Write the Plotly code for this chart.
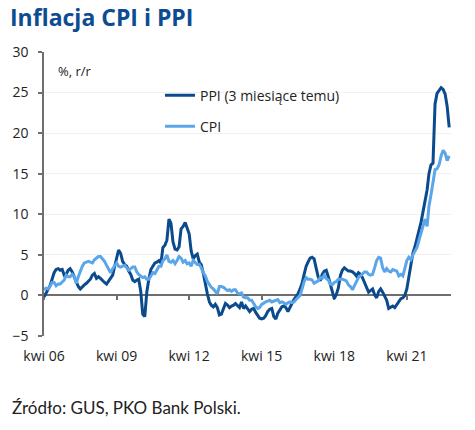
import pandas as pd
import plotly.graph_objects as go

# Monthly data, kwi 2006 - sty 2023
start_month = "2006-04-01"
n_months = 202

cpi = [
    0.7, 0.9, 0.8, 1.1, 1.6, 1.6, 1.2, 1.4, 1.4,
    1.6, 1.9, 2.5, 2.3, 2.3, 2.6, 2.3, 1.5, 2.3, 3.0, 3.6, 4.0,
    4.1, 4.2, 4.1, 4.0, 4.4, 4.6, 4.8, 4.8, 4.5, 4.2, 3.7, 3.3,
    2.8, 3.3, 3.6, 4.0, 3.6, 3.5, 3.6, 3.7, 3.4, 3.1, 3.3, 3.5,
    3.5, 2.9, 2.6, 2.4, 2.2, 2.3, 2.0, 2.0, 2.5, 2.8, 2.7, 3.1,
    3.6, 3.6, 4.3, 4.5, 5.0, 4.2, 4.1, 4.3, 3.9, 4.3, 4.8, 4.6,
    4.1, 4.3, 3.9, 4.0, 3.6, 4.3, 4.0, 3.8, 3.8, 3.4, 2.8, 2.4,
    1.7, 1.3, 1.0, 0.8, 0.5, 0.2, 1.1, 1.1, 1.0, 0.8, 0.6, 0.7,
    0.5, 0.7, 0.7, 0.3, 0.2, 0.3, -0.2, -0.3, -0.3, -0.6, -0.6, -1.0,
    -1.4, -1.6, -1.5, -1.1, -0.9, -0.8, -0.7, -0.6, -0.8, -0.7, -0.6, -0.5,
    -0.9, -0.8, -0.9, -1.1, -0.9, -0.8, -0.9, -0.8, -0.5, -0.2, 0.0, 0.8,
    1.7, 2.2, 2.0, 2.0, 1.9, 1.5, 1.7, 1.8, 2.2, 2.1, 2.5, 2.1,
    1.9, 1.4, 1.3, 1.6, 1.7, 2.0, 2.0, 2.0, 1.9, 1.8, 1.3, 1.1,
    0.7, 1.2, 1.7, 2.2, 2.4, 2.6, 2.9, 2.9, 2.6, 2.5, 2.6, 3.4,
    4.3, 4.7, 4.6, 3.4, 2.9, 3.3, 3.0, 2.9, 3.2, 3.1, 3.0, 2.4,
    2.6, 2.4, 3.2, 4.3, 4.7, 4.4, 5.0, 5.5, 5.9, 6.8, 7.8, 8.6,
    9.4, 8.5, 11.0, 12.4, 13.9, 15.5, 15.6, 16.1, 17.2, 17.9, 17.5, 16.6,
    17.2,
]

ppi_lag3 = [
    -0.2, 0.3, 0.8, 1.2, 2.0, 2.8, 3.2, 3.3, 3.1,
    3.2, 2.5, 2.6, 3.1, 3.3, 2.9, 2.3, 1.5, 1.1, 0.8, 1.1, 1.3,
    1.5, 1.8, 2.0, 2.5, 2.7, 2.1, 2.3, 2.1, 1.8, 1.6, 1.4, 1.8,
    2.1, 2.5, 3.5, 4.5, 5.6, 5.2, 4.2, 3.8, 3.6, 3.0, 2.6, 1.9,
    1.7, 1.9, 2.0, 0.5, -2.3, -2.6, 0.4, 2.0, 3.2, 3.6, 4.0, 4.1,
    4.3, 4.0, 5.9, 6.2, 6.8, 9.4, 8.9, 6.6, 5.7, 5.6, 6.0, 8.2,
    8.5, 9.0, 8.4, 7.6, 5.5, 4.5, 4.9, 5.1, 4.1, 3.8, 2.7, 1.2,
    0.2, -0.8, -1.2, -1.4, -1.1, -1.5, -2.4, -2.3, -1.6, -1.0, -1.2, -1.5,
    -1.3, -1.2, -1.0, -1.2, -1.5, -0.8, -1.6, -1.3, -1.6, -2.0, -1.7, -1.6,
    -2.1, -2.5, -2.8, -2.9, -2.8, -2.5, -2.0, -1.7, -1.6, -2.6, -2.9, -2.2,
    -1.7, -1.4, -1.3, -1.5, -2.0, -1.4, -1.0, -0.5, -0.2, 0.2, 0.8, 1.5,
    2.6, 3.6, 4.1, 4.6, 4.7, 4.5, 3.4, 2.3, 1.8, 2.6, 3.0, 3.1,
    2.3, 1.3, 0.4, -0.4, 0.1, 0.9, 2.4, 3.1, 3.4, 3.2, 3.0, 3.0,
    2.9, 2.7, 2.4, 2.8, 2.6, 2.2, 1.6, 0.8, 0.4, 0.6, 0.8, 0.1,
    -0.3, 0.5, 0.8, 0.4, -0.2, -0.6, -1.6, -1.4, -1.3, -1.5, -1.1, -0.7,
    -0.4, -0.3, 0.0, 0.8, 2.4, 3.7, 5.2, 6.0, 7.0, 7.7, 9.0, 10.3,
    11.6, 13.0, 15.0, 16.1, 16.3, 23.6, 24.9, 25.2, 25.6, 25.4, 24.8, 23.3,
    20.7,
]

tick_dates = ["2006-04-01", "2009-04-01", "2012-04-01", "2015-04-01", "2018-04-01", "2021-04-01"]
tick_labels = ["kwi 06", "kwi 09", "kwi 12", "kwi 15", "kwi 18", "kwi 21"]
y_ticks = [-5, 0, 5, 10, 15, 20, 25, 30]

dates = pd.date_range(start_month, periods=n_months, freq="MS")
x_range = ["2006-04-01", "2023-01-28"]

DARK = "#0b4a8c"
LIGHT = "#5aa6e8"
AXIS = "#6f6f6f"
TXT = "#222222"
FONT = "Open Sans"

W, H = 475, 430

fig = go.Figure()
fig.add_trace(go.Scatter(
    x=dates, y=ppi_lag3, mode="lines", name="PPI (3 miesiące temu)",
    line=dict(color=DARK, width=3), legendgroup="a",
))
fig.add_trace(go.Scatter(
    x=dates, y=cpi, mode="lines", name="CPI",
    line=dict(color=LIGHT, width=3), legendgroup="b",
))
# helper trace for the zero-line axis with tick marks
fig.add_trace(go.Scatter(
    x=dates, y=cpi, mode="lines", xaxis="x2", showlegend=False,
    line=dict(width=0, color="rgba(0,0,0,0)"), hoverinfo="skip",
))

fig.update_layout(
    width=W, height=H,
    margin=dict(l=44, r=24, t=52, b=94),
    paper_bgcolor="white", plot_bgcolor="white",
    font=dict(family=FONT, size=14, color=TXT),
    showlegend=True,
    legend=dict(
        x=0.285, y=0.903, xanchor="left", yanchor="top",
        bgcolor="rgba(0,0,0,0)", traceorder="grouped", tracegroupgap=10,
        font=dict(family=FONT, size=14, color=TXT),
    ),
    title=dict(
        text="<b>Inflacja CPI i PPI</b>", x=10 / W, xanchor="left",
        y=1 - 17.5 / H, yanchor="middle",
        font=dict(family=FONT, size=23, color="#0d4c92"),
    ),
    xaxis=dict(
        type="date", range=x_range, tickvals=tick_dates, ticktext=tick_labels,
        showgrid=False, zeroline=False, showline=False, ticks="",
        ticklabelstandoff=10, tickfont=dict(family=FONT, size=14, color=TXT),
    ),
    xaxis2=dict(
        type="date", range=x_range, overlaying="x", anchor="free", position=5 / 35,
        tickvals=tick_dates, showticklabels=False, showgrid=False, zeroline=False,
        showline=True, linecolor=AXIS, linewidth=1.5, ticks="outside",
        ticklen=4, tickwidth=1.5, tickcolor=AXIS, layer="below traces",
    ),
    yaxis=dict(
        range=[-5, 30], tickvals=y_ticks, showgrid=True, gridcolor="#f1f1f1",
        zeroline=False, showline=True, linecolor=AXIS, linewidth=1.5,
        ticks="outside", ticklen=4, tickwidth=1.5, tickcolor=AXIS,
        ticklabelstandoff=7, tickfont=dict(family=FONT, size=14, color=TXT),
    ),
)

fig.add_annotation(
    text="%, r/r", xref="paper", yref="paper", x=0.03, y=0.932,
    xanchor="left", yanchor="middle", showarrow=False,
    font=dict(family=FONT, size=13, color=TXT),
)
fig.add_annotation(
    text="Źródło: GUS, PKO Bank Polski.", xref="paper", yref="paper",
    x=-34 / 407, y=-0.25, xanchor="left", yanchor="middle", showarrow=False,
    font=dict(family="Lato", size=17, color=TXT),
)

fig.write_html(
    "out.html",
    config={"displayModeBar": False},
    post_script="document.body.style.margin='0px';",
)
